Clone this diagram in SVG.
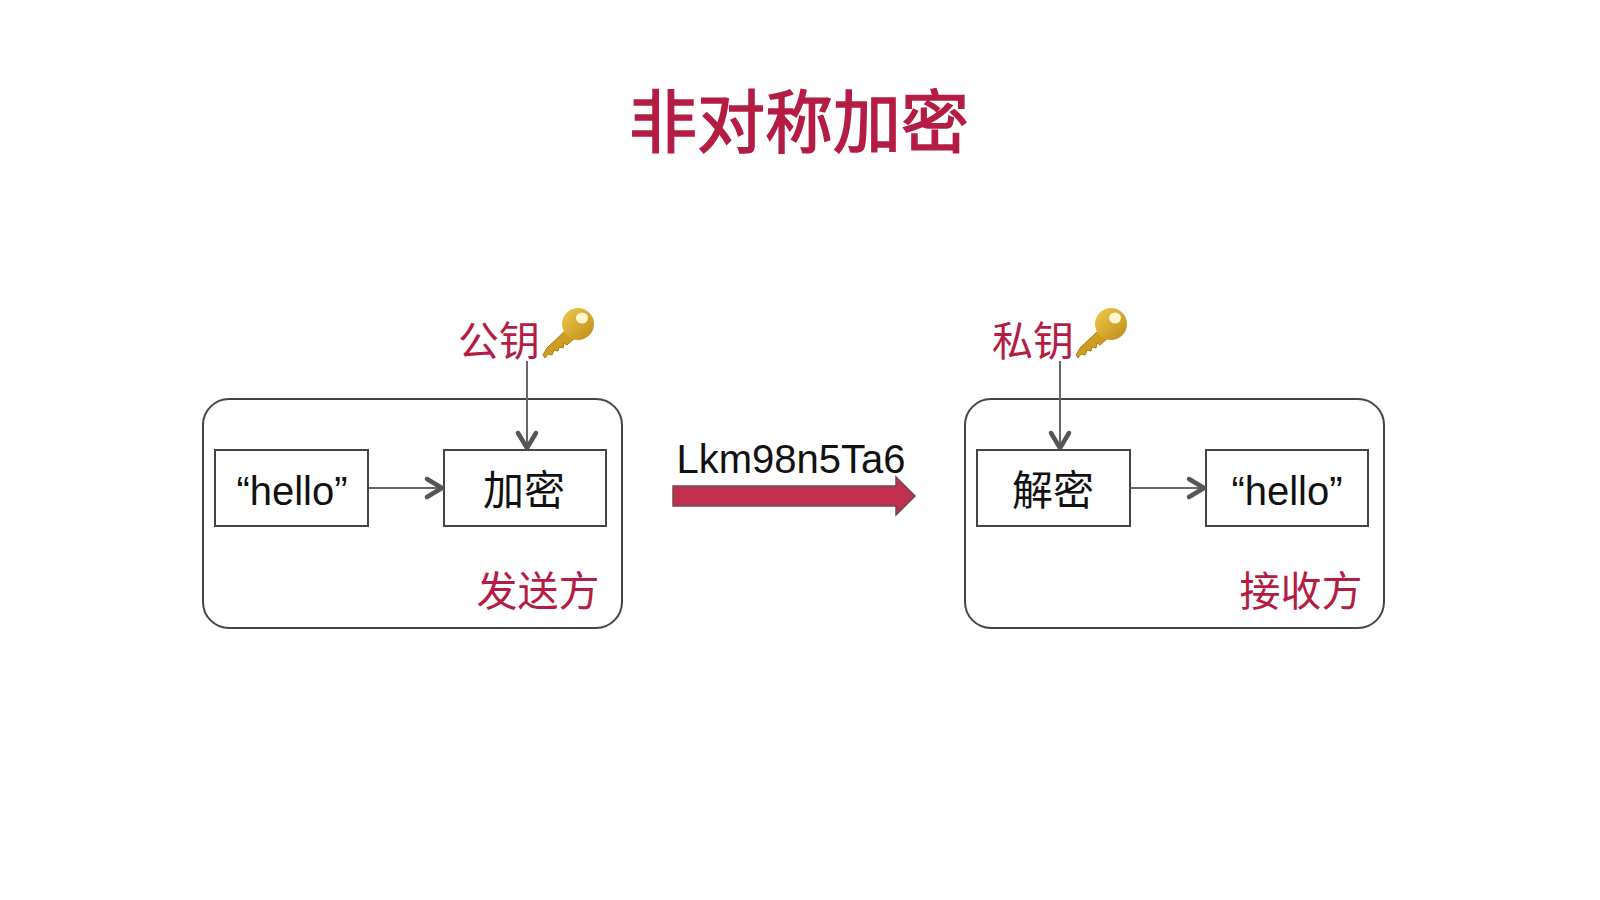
<svg xmlns="http://www.w3.org/2000/svg" width="1600" height="900" viewBox="0 0 1600 900">
<style>
text{font-family:"Liberation Sans","Noto Sans CJK SC",sans-serif;text-anchor:middle}
.red{fill:#b51c44}
.blk{fill:#111;font-size:41px}
.en{fill:#111;font-size:40px}
.lbl{font-size:41px}
.panel{fill:#fff;stroke:#444;stroke-width:2}
.box{fill:#fff;stroke:#444;stroke-width:2}
.conn{fill:none;stroke:#666;stroke-width:2}
</style>
<defs>
<marker id="open" markerUnits="userSpaceOnUse" markerWidth="24" markerHeight="24" refX="20" refY="12" orient="auto" overflow="visible">
<path d="M4 3L19 12L4 21" fill="none" stroke="#555" stroke-width="4.500" stroke-linecap="round" stroke-linejoin="round"/>
</marker>
<linearGradient id="gold" x1="0" y1="0" x2="1" y2="1"><stop offset="0" stop-color="#f0cb50"/><stop offset="1" stop-color="#bd8a16"/></linearGradient>
<g id="key">
<path d="M0 47L4 40L24 21L33 29L24 37L21 35L20 40L16 39L15 43L11 42L9 47L5 46L2 50Z" fill="#cf9d22" stroke="#a97a12" stroke-width="1"/>
<circle cx="35" cy="16" r="16" fill="url(#gold)"/>
<ellipse cx="39" cy="10" rx="6" ry="5.500" fill="#fff5cf"/>
</g>
</defs>
<rect width="1600" height="900" fill="#fff"/>
<text id="title" x="799" y="147" class="red" font-size="68" stroke="#b51c44" stroke-width="1.500">非对称加密</text>
<g id="sender">
<rect class="panel" x="203" y="399" width="419" height="229" rx="26"/>
<text class="red lbl" x="538" y="606">发送方</text>
</g>
<g id="receiver">
<rect class="panel" x="965" y="399" width="419" height="229" rx="26"/>
<text class="red lbl" x="1301" y="606">接收方</text>
</g>
<g id="plain-left"><rect class="box" x="215" y="450" width="153" height="76"/><text class="en" x="292" y="505">“hello”</text></g>
<g id="encrypt"><rect class="box" x="444" y="450" width="162" height="76"/><text class="blk" x="524" y="505">加密</text></g>
<g id="decrypt"><rect class="box" x="977" y="450" width="153" height="76"/><text class="blk" x="1053" y="505">解密</text></g>
<g id="plain-right"><rect class="box" x="1206" y="450" width="162" height="76"/><text class="en" x="1287" y="505">“hello”</text></g>
<g id="pubkey"><text class="red lbl" x="499" y="356">公钥</text><use href="#key" transform="translate(543 308)"/></g>
<g id="privkey"><text class="red lbl" x="1033" y="356">私钥</text><use href="#key" transform="translate(1076 308)"/></g>
<g id="cipher"><text x="791" y="473" font-size="40" fill="#111">Lkm98n5Ta6</text></g>
<g id="connectors">
<path class="conn" d="M527 361V449" marker-end="url(#open)"/>
<path class="conn" d="M1060 361V449" marker-end="url(#open)"/>
<path class="conn" d="M369 488H443" marker-end="url(#open)"/>
<path class="conn" d="M1131 488H1205" marker-end="url(#open)"/>
<path d="M673 486H896V477L915 496L896 515V506H673Z" fill="#c0304e" stroke="#6e4a52" stroke-width="1.500"/>
</g>
</svg>
